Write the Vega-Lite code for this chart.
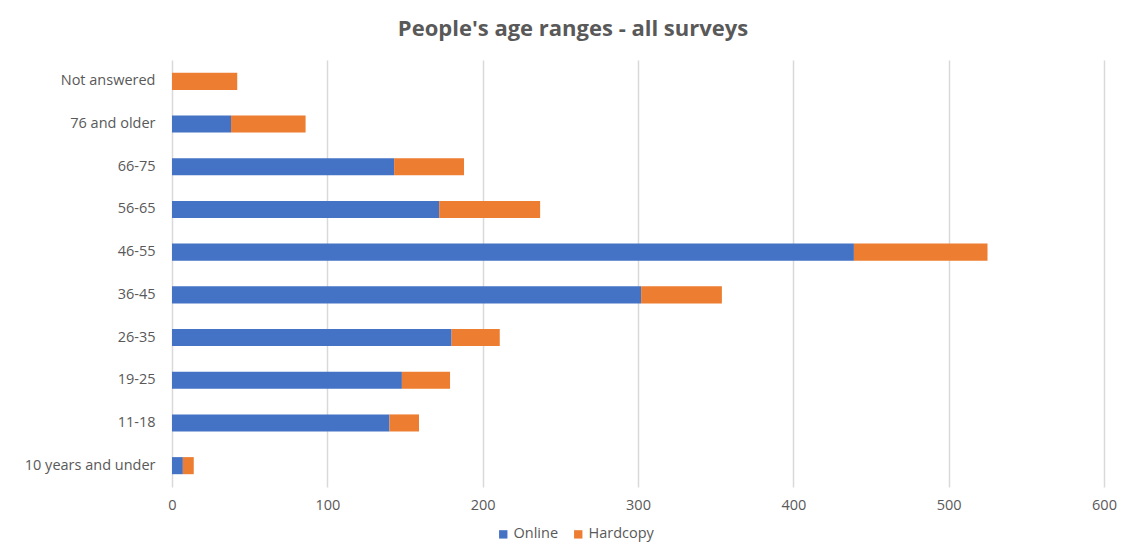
{
  "$schema": "https://vega.github.io/schema/vega-lite/v6.json",
  "autosize": {"type": "none"},
  "padding": {"left": 172, "top": 60, "right": 28, "bottom": 63},
  "width": 932,
  "height": 427,
  "background": "white",
  "title": {
    "text": "People's age ranges - all surveys",
    "font": "Open Sans",
    "fontSize": 22,
    "fontWeight": "bold",
    "color": "#595959",
    "anchor": "middle",
    "dx": -65,
    "offset": 19
  },
  "data": {
    "values": [
      {"age": "Not answered", "type": "Online", "count": 0},
      {"age": "Not answered", "type": "Hardcopy", "count": 42},
      {"age": "76 and older", "type": "Online", "count": 38},
      {"age": "76 and older", "type": "Hardcopy", "count": 48},
      {"age": "66-75", "type": "Online", "count": 143},
      {"age": "66-75", "type": "Hardcopy", "count": 45},
      {"age": "56-65", "type": "Online", "count": 172},
      {"age": "56-65", "type": "Hardcopy", "count": 65},
      {"age": "46-55", "type": "Online", "count": 439},
      {"age": "46-55", "type": "Hardcopy", "count": 86},
      {"age": "36-45", "type": "Online", "count": 302},
      {"age": "36-45", "type": "Hardcopy", "count": 52},
      {"age": "26-35", "type": "Online", "count": 180},
      {"age": "26-35", "type": "Hardcopy", "count": 31},
      {"age": "19-25", "type": "Online", "count": 148},
      {"age": "19-25", "type": "Hardcopy", "count": 31},
      {"age": "11-18", "type": "Online", "count": 140},
      {"age": "11-18", "type": "Hardcopy", "count": 19},
      {"age": "10 years and under", "type": "Online", "count": 7},
      {"age": "10 years and under", "type": "Hardcopy", "count": 7}
    ]
  },
  "mark": {"type": "bar"},
  "encoding": {
    "y": {
      "field": "age",
      "type": "nominal",
      "sort": ["Not answered", "76 and older", "66-75", "56-65", "46-55", "36-45", "26-35", "19-25", "11-18", "10 years and under"],
      "scale": {"paddingInner": 0.6, "paddingOuter": 0.3},
      "axis": {
        "title": null,
        "domain": false,
        "ticks": false,
        "labelPadding": 17,
        "labelFont": "Open Sans",
        "labelFontSize": 14.5,
        "labelColor": "#595959"
      }
    },
    "x": {
      "field": "count",
      "type": "quantitative",
      "stack": "zero",
      "scale": {"domain": [0, 600], "nice": false},
      "axis": {
        "title": null,
        "values": [0, 100, 200, 300, 400, 500, 600],
        "domain": false,
        "ticks": false,
        "grid": true,
        "gridColor": "#D9D9D9",
        "gridWidth": 1.5,
        "labelFlush": false,
        "labelPadding": 11,
        "labelFont": "Open Sans",
        "labelFontSize": 14.5,
        "labelColor": "#595959"
      }
    },
    "color": {
      "field": "type",
      "type": "nominal",
      "scale": {"domain": ["Online", "Hardcopy"], "range": ["#4472C4", "#ED7D31"]},
      "legend": {
        "title": null,
        "orient": "none",
        "direction": "horizontal",
        "legendX": 324,
        "legendY": 467,
        "symbolType": "square",
        "symbolSize": 70,
        "symbolStrokeWidth": 0,
        "labelFont": "Open Sans",
        "labelFontSize": 14.5,
        "labelColor": "#595959",
        "columnPadding": 12,
        "labelOffset": 3
      }
    },
    "order": {"field": "type", "sort": "descending"}
  },
  "config": {
    "view": {"stroke": null}
  }
}
